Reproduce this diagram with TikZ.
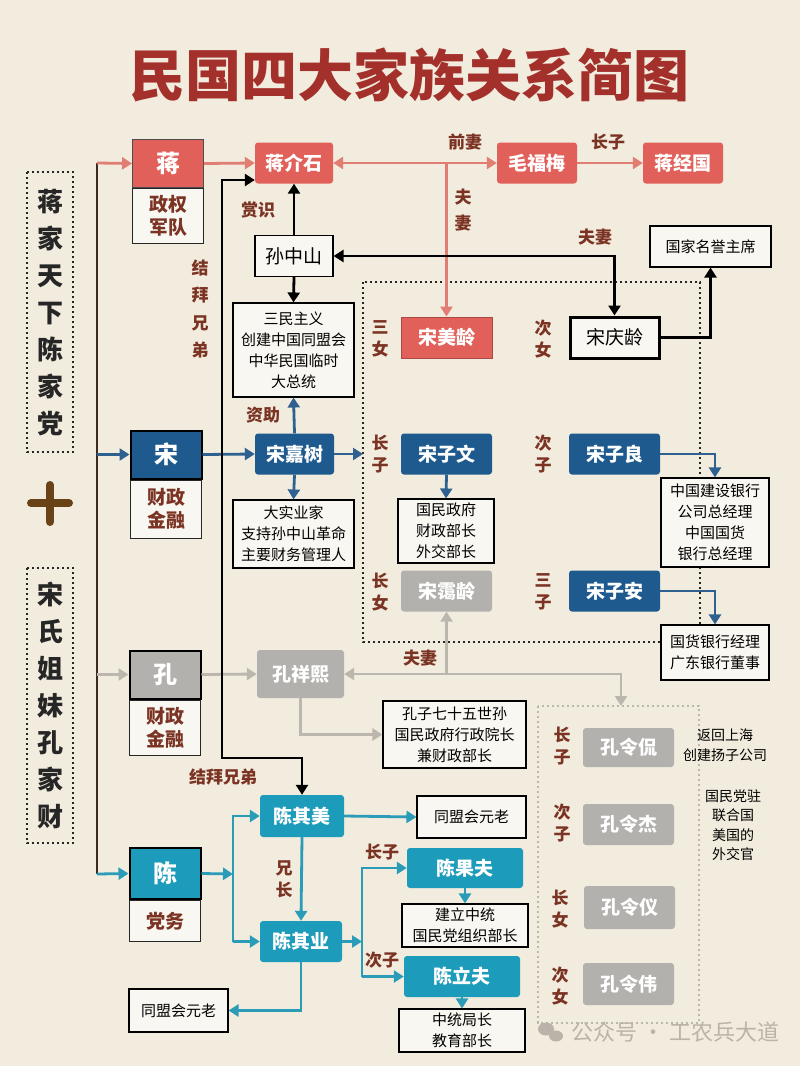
\documentclass[tikz,border=0pt]{standalone}
\usepackage{fontspec}
\setmainfont{Noto Sans CJK SC}
\usetikzlibrary{positioning,calc,arrows.meta}
\definecolor{paper}{HTML}{F2ECDE}
\definecolor{titlered}{HTML}{A3302B}
\definecolor{labelbrown}{HTML}{7B3323}
\definecolor{trunkbrown}{HTML}{3A2A22}
\definecolor{plusbrown}{HTML}{6A4218}
\definecolor{jiangred}{HTML}{E2605A}
\definecolor{jiangline}{HTML}{E07E74}
\definecolor{songblue}{HTML}{1E5A8E}
\definecolor{songline}{HTML}{2F6190}
\definecolor{konggray}{HTML}{B3B1AE}
\definecolor{kongline}{HTML}{BBB7AF}
\definecolor{chenteal}{HTML}{1C9BBA}
\definecolor{chenline}{HTML}{2A9CB8}
\definecolor{boxfill}{HTML}{F9F7F2}
\definecolor{markgray}{HTML}{B9B3A9}

\begin{document}
\begin{tikzpicture}[
  x=1pt, y=-1pt,
  font=\fontsize{15}{21}\selectfont,
  >={Triangle[length=10pt,width=12pt]},
  famhead/.style={
    draw=black, line width=2pt, fill=#1,
    minimum width=71pt, minimum height=48pt, inner sep=0pt,
    text=white, font=\bfseries\fontsize{24}{26}\selectfont,
  },
  fambody/.style={
    draw=black!85, line width=0.9pt, fill=boxfill,
    minimum width=71pt, minimum height=#1, inner sep=0pt,
    align=center, text=labelbrown, font=\bfseries\fontsize{19}{23}\selectfont,
  },
  person/.style 2 args={
    fill=#1, rounded corners=3pt,
    minimum width=#2, minimum height=41pt, inner sep=0pt,
    text=white, font=\bfseries\fontsize{19}{21}\selectfont,
  },
  infobox/.style 2 args={
    draw=black, line width=1.1pt, fill=boxfill,
    minimum width=#1, minimum height=#2, inner sep=0pt,
    align=center, text=black, font=\fontsize{15}{21}\selectfont,
  },
  tag/.style={text=labelbrown, inner sep=0pt, align=center,
    font=\bfseries\fontsize{17}{22}\selectfont},
  note/.style={text=black, inner sep=0pt, align=center,
    font=\fontsize{14}{19.5}\selectfont},
  link/.style={draw=#1, line width=2.8pt},
  frame/.style={draw=#1, line width=2.4pt, dash pattern=on 2.4pt off 2.6pt},
]

\fill[paper] (0,0) rectangle (800,1066);
\useasboundingbox (0,0) rectangle (800,1066);

% --- title ----------------------------------------------------------
\node[text=titlered, font=\bfseries\fontsize{56}{58}\selectfont] (title) at (409,75) {民国四大家族关系简图};

% --- left column ----------------------------------------------------
\draw[frame=black!85] (27,172) rectangle (73,452);
\node[text=black!85, align=center, font=\bfseries\fontsize{26}{37}\selectfont] (slogan1) at (50,313) {蒋\\家\\天\\下\\陈\\家\\党};
\draw[plusbrown, line width=8pt, line cap=round] (31,503) -- (69,503) (50,485) -- (50,522);
\draw[frame=black!85] (27,568) rectangle (73,843);
\node[text=black!85, align=center, font=\bfseries\fontsize{26}{37}\selectfont] (slogan2) at (50,705) {宋\\氏\\姐\\妹\\孔\\家\\财};

\coordinate (trunktop) at (97,163);
\coordinate (trunkbot) at (97,874);
\draw[trunkbrown, line width=2.8pt] (trunktop) -- (trunkbot);

% --- family boxes ---------------------------------------------------
\node[famhead=jiangred, line width=0.9pt, draw=black!70] (jiangfam) at (168,163.5) {蒋};
\node[fambody=55pt, below=0pt of jiangfam] (jiangrole) {政权\\军队};
\node[famhead=songblue] (songfam) at (166,454.5) {宋};
\node[fambody=58pt, below=0pt of songfam] (songrole) {财政\\金融};
\node[famhead=konggray] (kongfam) at (165,674.5) {孔};
\node[fambody=55pt, below=0pt of kongfam] (kongrole) {财政\\金融};
\node[famhead=chenteal, minimum height=51pt] (chenfam) at (165,873.5) {陈};
\node[fambody=41pt, below=0pt of chenfam] (chenrole) {党务};

\draw[link=jiangline,->] (trunktop) -- (jiangfam.west);
\draw[link=songline,->] (trunktop |- songfam.west) -- (songfam.west);
\draw[link=kongline,->] (trunktop |- kongfam.west) -- (kongfam.west);
\draw[link=chenline,->] (trunkbot) -- (chenfam.west);

% --- Jiang ----------------------------------------------------------
\node[person={jiangred}{78pt}] (jieshi) at (294,163) {蒋介石};
\node[person={jiangred}{80pt}] (fumei) at (537,163) {毛福梅};
\node[person={jiangred}{80pt}] (jingguo) at (683,163) {蒋经国};

\draw[link=jiangline,->] (jiangfam.east) -- (jieshi.west);
\draw[link=jiangline,<->] (jieshi.east) -- (fumei.west);
\draw[link=jiangline,->] (fumei.east) -- (jingguo.west);
\node[tag] at (465,142) {前妻};
\node[tag] at (608,142) {长子};

% --- Sun Yat-sen ----------------------------------------------------
\node[infobox={78pt}{41pt}, font=\fontsize{19}{21}\selectfont] (sunzs) at (294,256) {孙中山};
\node[infobox={121pt}{94pt}] (sanmin) at (293.5,350) {三民主义\\创建中国同盟会\\中华民国临时\\大总统};
\node[infobox={121pt}{41pt}] (mingyu) at (710.5,246.5) {国家名誉主席};

\draw[link=black,->] (sunzs.north) -- (jieshi.south);
\draw[link=black,->] (sunzs.south) -- (sanmin.north);
\node[tag] at (258,210) {赏识};

% --- Soong children -------------------------------------------------
\draw[frame=black!85] (363,282) rectangle (700,642);

\node[person={jiangred}{91pt}, draw=jiangred!75!black, line width=1pt, rounded corners=0pt] (meiling) at (446.5,337.5) {宋美龄};
\node[infobox={89pt}{41pt}, line width=3pt, font=\fontsize{19}{21}\selectfont] (qingling) at (614.5,337.5) {宋庆龄};
\node[tag] at (380,339) {三\\女};
\node[tag] at (543,339) {次\\女};

\draw[link=jiangline,->] (meiling.north |- jieshi.east) -- (meiling.north);
\node[tag, font=\bfseries\fontsize{17}{26}\selectfont] at (463,210) {夫\\妻};
\draw[link=black,<->] (sunzs.east) -| (qingling.north);
\node[tag] at (595,237) {夫妻};
\draw[link=black,->] (qingling.east) -| (mingyu.south);

\node[person={songblue}{79pt}] (jiashu) at (294.5,454) {宋嘉树};
\node[infobox={121pt}{68pt}] (shiye) at (293.5,534) {大实业家\\支持孙中山革命\\主要财务管理人};
\coordinate (songkids) at (363,454);

\draw[link=songline,->] (songfam.east) -- (jiashu.west);
\draw[link=songline,->] (jiashu.north) -- (sanmin.south);
\draw[link=songline,->] (jiashu.south) -- (shiye.north);
\draw[link=songline,->] (jiashu.east) -- (songkids);
\node[tag] at (263,415) {资助};

\node[person={songblue}{91pt}] (ziwen) at (446.5,454) {宋子文};
\node[infobox={96pt}{64pt}] (ziwenjob) at (446,531) {国民政府\\财政部长\\外交部长};
\node[person={songblue}{91pt}] (ziliang) at (614.5,454) {宋子良};
\node[infobox={108pt}{89pt}] (ziliangjob) at (715,522.5) {中国建设银行\\公司总经理\\中国国货\\银行总经理};
\node[person={konggray}{91pt}] (ailing) at (446.5,591) {宋霭龄};
\node[person={songblue}{91pt}] (zian) at (614.5,591) {宋子安};
\node[infobox={108pt}{55pt}] (zianjob) at (715,652.5) {国货银行经理\\广东银行董事};
\node[tag] at (380,454) {长\\子};
\node[tag] at (543,454) {次\\子};
\node[tag] at (380,592) {长\\女};
\node[tag] at (543,592) {三\\子};

\draw[link=songline,->] (ziwen.south) -- (ziwenjob.north);
\draw[link=songline,->] (ziliang.east) -| (ziliangjob.north);
\draw[link=songline,->] (zian.east) -| (zianjob.north);

% --- Kung -----------------------------------------------------------
\node[person={konggray}{87pt}, minimum height=48pt] (xiangxi) at (300.5,674) {孔祥熙};
\node[infobox={143pt}{67pt}] (xiangxijob) at (454.5,734.5) {孔子七十五世孙\\国民政府行政院长\\兼财政部长};
\coordinate (kongkids) at (621,706);

\draw[link=kongline,->] (kongfam.east) -- (xiangxi.west);
\draw[link=kongline,<->] (xiangxi.east) -| (kongkids);
\draw[link=kongline,->] (ailing.south |- xiangxi.east) -- (ailing.south);
\draw[link=kongline,->] (xiangxi.south) |- (xiangxijob.west);
\node[tag] at (420,658) {夫妻};

\draw[frame=kongline, line width=2pt] (538,706) rectangle (699,1023);
\node[person={konggray}{91pt}, minimum height=39pt] (lingkan) at (628.5,747.5) {孔令侃};
\node[person={konggray}{91pt}] (lingjie) at (628.5,824.5) {孔令杰};
\node[person={konggray}{91pt}, minimum height=43pt] (lingyi) at (629.5,907.5) {孔令仪};
\node[person={konggray}{91pt}, minimum height=42pt] (lingwei) at (628.5,984) {孔令伟};
\node[tag] at (562,746) {长\\子};
\node[tag] at (562,823) {次\\子};
\node[tag] at (560,909) {长\\女};
\node[tag] at (560,986) {次\\女};
\node[note] at (725,745) {返回上海\\创建扬子公司};
\node[note] at (733,825) {国民党驻\\联合国\\美国的\\外交官};

% --- Chen -----------------------------------------------------------
\node[person={chenteal}{84pt}, minimum height=42pt] (qimei) at (302,816) {陈其美};
\node[infobox={109pt}{42pt}] (qimeijob) at (471.5,817) {同盟会元老};
\node[person={chenteal}{82pt}] (qiye) at (301,941.5) {陈其业};
\node[infobox={99pt}{43pt}] (qiyejob) at (178.5,1010.5) {同盟会元老};
\node[person={chenteal}{116pt}, minimum height=40pt] (guofu) at (465,868) {陈果夫};
\node[infobox={126pt}{43pt}] (guofujob) at (465,925.5) {建立中统\\国民党组织部长};
\node[person={chenteal}{116pt}] (lifu) at (462,976.5) {陈立夫};
\node[infobox={126pt}{43pt}] (lifujob) at (462,1030.5) {中统局长\\教育部长};
\coordinate (chenbus) at (233,874);
\coordinate (sonbus) at (362,941.5);

\draw[link=chenline,->] (chenfam.east) -- (chenbus);
\draw[link=chenline,->] (chenbus |- qiye.west) |- (qimei.west);
\draw[link=chenline,->] (chenbus |- qiye.west) -- (qiye.west);
\draw[link=chenline,->] (qimei.east) -- (qimeijob.west);
\draw[link=chenline,->] (qimei.south) -- (qiye.north);
\draw[link=chenline,->] (qiye.east) -- (sonbus);
\draw[link=chenline,->] (sonbus |- lifu.west) |- (guofu.west);
\draw[link=chenline,->] (sonbus |- lifu.west) -- (lifu.west);
\draw[link=chenline,->] (guofu.south) -- (guofujob.north);
\draw[link=chenline,->] (lifu.south) -- (lifujob.north);
\draw[link=chenline,->] (qiye.south) |- (qiyejob.east);
\node[tag] at (284,879) {兄\\长};
\node[tag] at (382,852) {长子};
\node[tag] at (382,960) {次子};

% --- sworn brothers -------------------------------------------------
\coordinate (swtop) at (222,180);
\coordinate (swbot) at (222,758);
\draw[link=black,<->] (swtop -| jieshi.west) -- (swtop) -- (swbot) -| (qimei.north);
\node[tag, font=\bfseries\fontsize{17}{27.5}\selectfont] at (200,309) {结\\拜\\兄\\弟};
\node[tag] at (223,777) {结拜兄弟};

% --- watermark ------------------------------------------------------
\fill[markgray] (546,1029) ellipse (8pt and 6.5pt);
\fill[markgray] (556,1036) ellipse (7pt and 5.5pt);
\node[text=markgray, font=\fontsize{22}{24}\selectfont, anchor=west] (mark) at (568,1032) {公众号 · 工农兵大道};

\end{tikzpicture}
\end{document}
